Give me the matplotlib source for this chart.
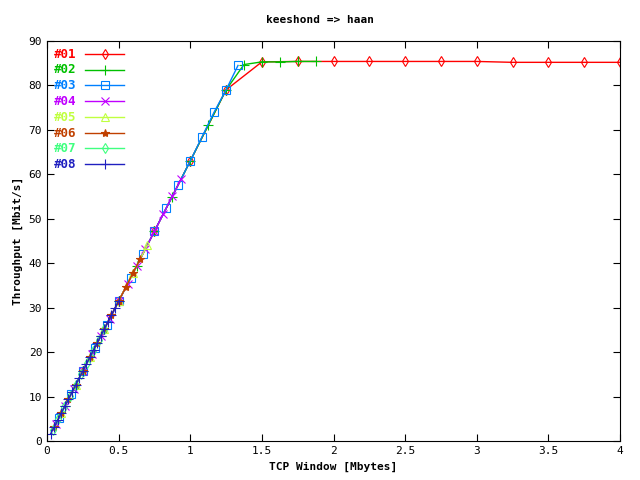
import matplotlib
matplotlib.use("Agg")
import matplotlib.pyplot as plt

names = ["#01", "#02", "#03", "#04", "#05", "#06", "#07", "#08"]
colors = ["#ff0000", "#00c000", "#0080ff", "#c000ff", "#c0ff40", "#c04000", "#40ff80", "#2020c0"]
markers = ["d", "+", "s", "x", "^", "*", "d", "+"]
msizes = [5, 7, 6, 6, 6, 6, 5, 7]

x01 = [0.25, 0.5, 0.75, 1.0, 1.25, 1.5, 1.75, 2.0, 2.25, 2.5, 2.75, 3.0, 3.25, 3.5, 3.75, 4.0]
y01 = [15.8, 31.5, 47.2, 63.0, 79.0, 85.3, 85.4, 85.4, 85.4, 85.4, 85.4, 85.4, 85.2, 85.2, 85.2, 85.2]
x02 = [0.125, 0.25, 0.375, 0.5, 0.625, 0.75, 0.875, 1.0, 1.125, 1.25, 1.375, 1.5, 1.625, 1.75, 1.875]
y02 = [7.9, 15.8, 23.6, 31.4, 39.3, 47.2, 55.0, 63.0, 71.0, 79.0, 84.7, 85.3, 85.3, 85.4, 85.4]
x03 = [0.0833, 0.1667, 0.25, 0.3333, 0.4167, 0.5, 0.5833, 0.6667, 0.75, 0.8333, 0.9167, 1.0, 1.0833, 1.1667, 1.25, 1.3333]
y03 = [5.2, 10.5, 15.7, 21.0, 26.2, 31.4, 36.7, 42.0, 47.2, 52.5, 57.7, 63.0, 68.5, 74.0, 79.0, 84.5]
x04 = [0.0625, 0.125, 0.1875, 0.25, 0.3125, 0.375, 0.4375, 0.5, 0.5625, 0.625, 0.6875, 0.75, 0.8125, 0.875, 0.9375]
y04 = [3.9, 7.9, 11.8, 15.7, 19.6, 23.6, 27.5, 31.4, 35.4, 39.3, 43.2, 47.2, 51.1, 55.1, 59.0]
x05 = [0.1, 0.2, 0.3, 0.4, 0.5, 0.6, 0.7]
y05 = [6.3, 12.6, 18.9, 25.2, 31.5, 37.8, 44.0]
x06 = [0.05, 0.1, 0.15, 0.2, 0.25, 0.3, 0.35, 0.4, 0.45, 0.5, 0.55, 0.6, 0.65]
y06 = [3.1, 6.3, 9.4, 12.6, 15.7, 18.9, 22.0, 25.2, 28.3, 31.5, 34.6, 37.8, 40.9]
x07 = [0.04, 0.08, 0.12, 0.16, 0.2, 0.24, 0.28, 0.32, 0.36, 0.4]
y07 = [2.5, 5.0, 7.6, 10.1, 12.6, 15.1, 17.6, 20.2, 22.7, 25.2]
x08 = [0.025, 0.05, 0.075, 0.1, 0.125, 0.15, 0.175, 0.2, 0.225, 0.25, 0.275, 0.3, 0.325, 0.35, 0.375, 0.4, 0.425, 0.45, 0.475, 0.5]
y08 = [1.6, 3.1, 4.7, 6.3, 7.9, 9.4, 11.0, 12.6, 14.2, 15.7, 17.3, 18.9, 20.5, 22.0, 23.6, 25.2, 26.8, 28.3, 29.9, 31.5]
xs = [x01, x02, x03, x04, x05, x06, x07, x08]
ys = [y01, y02, y03, y04, y05, y06, y07, y08]

xticks = [0, 0.5, 1, 1.5, 2, 2.5, 3, 3.5, 4]
xticklabels = ["0", "0.5", "1", "1.5", "2", "2.5", "3", "3.5", "4"]
yticks = [0, 10, 20, 30, 40, 50, 60, 70, 80, 90]

plt.rcParams["font.family"] = "DejaVu Sans Mono"
plt.rcParams["font.size"] = 8
fig = plt.figure(figsize=(6.4, 4.8), dpi=100)
ax = fig.add_axes([47/640, 1-441/480, 573/640, 400/480])
for x, y, c, m, n, s in zip(xs, ys, colors, markers, names, msizes):
    mfc = "none" if m in ("d", "s", "^") else c
    ax.plot(x, y, color=c, lw=1, marker=m, ms=s, mfc=mfc, mec=c, mew=0.8, label=n)
ax.set_xlim(0, 4)
ax.set_ylim(0, 90)
ax.set_xticks(xticks)
ax.set_xticklabels(xticklabels)
ax.set_yticks(yticks)
ax.tick_params(direction="in", top=True, right=True, length=5)
ax.set_xlabel("TCP Window [Mbytes]", fontweight="bold")
ax.set_ylabel("Throughput [Mbit/s]", fontweight="bold")
fig.text(0.5, 1-20/480, "keeshond => haan", ha="center", va="center", fontweight="bold", fontsize=8)
leg = ax.legend(loc="upper left", frameon=False, markerfirst=False, handlelength=3.5,
                labelspacing=0.25, borderaxespad=0.2, handletextpad=0.8)
for t, c in zip(leg.get_texts(), colors):
    t.set_color(c)
    t.set_fontweight("bold")
    t.set_fontsize(9)
fig.savefig("out.png", dpi=100)
